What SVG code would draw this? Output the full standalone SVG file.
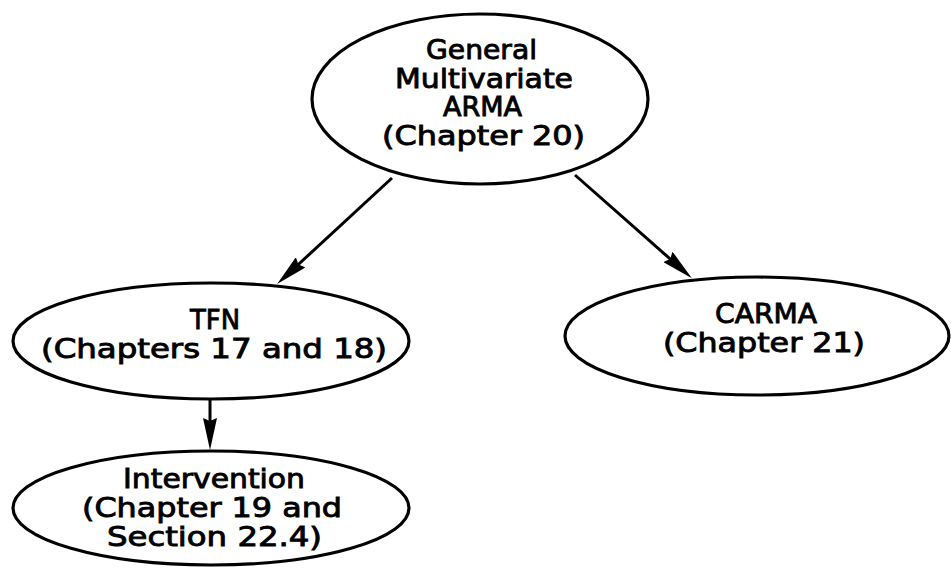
<svg xmlns="http://www.w3.org/2000/svg" width="951" height="570" viewBox="0 0 951 570">
<style>
.node ellipse { fill: #fff; stroke: #000; stroke-width: 3.2; }
.node text { font-family: "DejaVu Sans", "Liberation Sans", sans-serif; font-size: 27px; fill: #000; stroke: #000; stroke-width: 0.9; }
.edges line { stroke: #000; stroke-width: 3; fill: none; marker-end: url(#arrow); }
</style>
<defs>
<marker id="arrow" markerUnits="userSpaceOnUse" viewBox="0 0 32 14" refX="12" refY="7" markerWidth="32" markerHeight="14" orient="auto">
<path d="M0,0 L32,7 L0,14 L3,7 z" fill="#000"/>
</marker>
</defs>
<rect width="951" height="570" fill="#fff"/>
<g class="edges" id="connectors">
<line x1="392" y1="178" x2="291.8" y2="270.5"/>
<line x1="575" y1="175" x2="676.9" y2="264.9"/>
<line x1="210" y1="399" x2="210" y2="430"/>
</g>
<g class="node" id="general">
<ellipse cx="480" cy="99" rx="168" ry="85"/>
<text x="426" y="59" textLength="111" lengthAdjust="spacingAndGlyphs">General</text>
<text x="395" y="87.5" textLength="178" lengthAdjust="spacingAndGlyphs">Multivariate</text>
<text x="443" y="116" textLength="79" lengthAdjust="spacingAndGlyphs">ARMA</text>
<text x="382" y="144.5" textLength="203" lengthAdjust="spacingAndGlyphs">(Chapter 20)</text>
</g>
<g class="node" id="tfn">
<ellipse cx="211" cy="341" rx="198" ry="58"/>
<text x="190" y="329" textLength="50" lengthAdjust="spacingAndGlyphs">TFN</text>
<text x="41" y="358" textLength="346" lengthAdjust="spacingAndGlyphs">(Chapters 17 and 18)</text>
</g>
<g class="node" id="intervention">
<ellipse cx="211" cy="508" rx="198" ry="57"/>
<text x="123" y="488" textLength="182" lengthAdjust="spacingAndGlyphs">Intervention</text>
<text x="82" y="517" textLength="260" lengthAdjust="spacingAndGlyphs">(Chapter 19 and</text>
<text x="107" y="546" textLength="215" lengthAdjust="spacingAndGlyphs">Section 22.4)</text>
</g>
<g class="node" id="carma">
<ellipse cx="757" cy="336" rx="192" ry="59"/>
<text x="715" y="323" textLength="102" lengthAdjust="spacingAndGlyphs">CARMA</text>
<text x="663" y="352" textLength="202" lengthAdjust="spacingAndGlyphs">(Chapter 21)</text>
</g>
</svg>
